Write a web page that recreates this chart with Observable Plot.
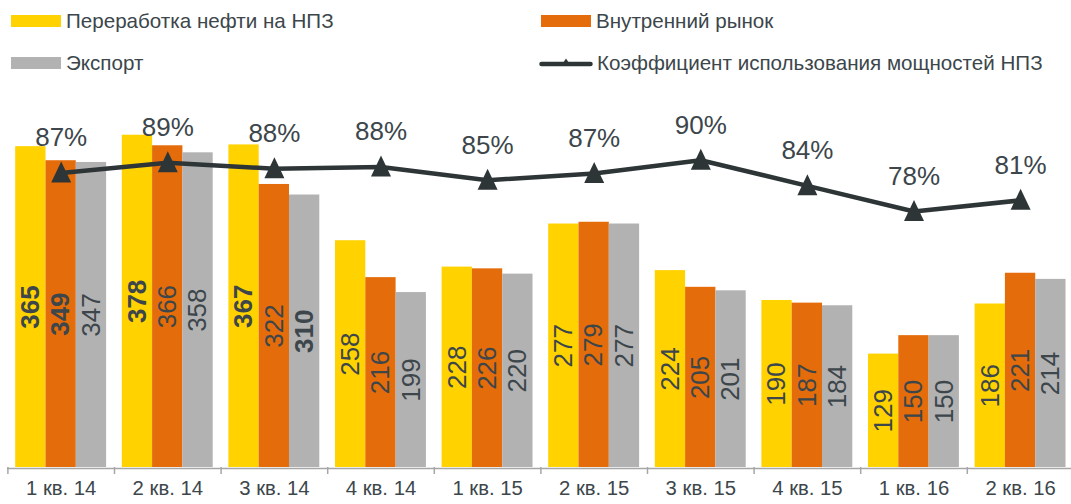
<!DOCTYPE html>
<html>
<head>
<meta charset="utf-8">
<script src="https://cdn.jsdelivr.net/npm/d3@7"></script>
<script src="https://cdn.jsdelivr.net/npm/@observablehq/plot@0.6"></script>
<style>
  body { margin: 0; background: #fff; font-family: Arial, "Liberation Sans", sans-serif; }
  #wrap { width: 1071px; height: 504px; position: relative; overflow: hidden; }
  #legend { position: relative; height: 90px; }
  .item { position: absolute; display: flex; align-items: center; height: 24px; font-size: 20.6px; color: #3C464B; white-space: nowrap; }
  .sw { width: 50px; height: 12px; margin-right: 5px; }
  #chart svg { display: block; }
</style>
</head>
<body>
<div id="wrap">
  <div id="legend"></div>
  <div id="chart"></div>
</div>
<script>
// ---- data ----
const quarters = ["1 кв. 14","2 кв. 14","3 кв. 14","4 кв. 14","1 кв. 15","2 кв. 15","3 кв. 15","4 кв. 15","1 кв. 16","2 кв. 16"];
const seriesNames = ["Переработка нефти на НПЗ", "Внутренний рынок", "Экспорт"];
const lineName = "Коэффициент использования мощностей НПЗ";
const refining = [365, 378, 367, 258, 228, 277, 224, 190, 129, 186];
const domestic = [349, 366, 322, 216, 226, 279, 205, 187, 150, 221];
const exportVals = [347, 358, 310, 199, 220, 277, 201, 184, 150, 214];
const utilization = [87.0, 89.4, 88.0, 88.4, 85.3, 86.9, 90.0, 84.0, 78.0, 80.6];

// ---- style ----
const colors = ["#FFD200", "#E46C0A", "#B2B2B2"];
const lineColor = "#2E3537";
const textColor = "#3C464B";
const boldLabels = new Set(["0|1 кв. 14", "1|1 кв. 14", "0|2 кв. 14", "0|3 кв. 14", "2|3 кв. 14"]);

// ---- legend ----
const legend = document.getElementById("legend");
const legendItems = [
  {name: seriesNames[0], color: colors[0], left: 11, top: 9},
  {name: seriesNames[1], color: colors[1], left: 541, top: 9},
  {name: seriesNames[2], color: colors[2], left: 11, top: 50.5},
  {name: lineName, line: true, left: 539, top: 50.5}
];
for (const it of legendItems) {
  const div = document.createElement("div");
  div.className = "item";
  div.style.left = it.left + "px";
  div.style.top = it.top + "px";
  if (it.line) {
    div.innerHTML = `<svg width="54" height="14" style="margin-right:4px"><line x1="2.5" y1="8" x2="51.5" y2="8" stroke="${lineColor}" stroke-width="4.5" stroke-linecap="round"/><path d="M22,10 L32,10 L27,2.5 Z" fill="${lineColor}"/></svg>`;
  } else {
    div.innerHTML = `<div class="sw" style="background:${it.color}"></div>`;
  }
  const span = document.createElement("span");
  span.textContent = it.name;
  div.appendChild(span);
  legend.appendChild(div);
}

// ---- chart ----
const W = 1071, H = 414, mb = 37;
const bandStart = 7.4, bandW = 106.6, pad = 7.8, barW = 30.3;
const pxPerUnit = 0.879;
const yMax = (H - mb) / pxPerUnit;
// secondary (percent) axis mapped into bar units
const pctToY = d3.scaleLinear().domain([18.04, 90]).range([0, 349.6]);

const series = [refining, domestic, exportVals];
const bars = [];
series.forEach((arr, s) => arr.forEach((v, i) => bars.push({q: quarters[i], s, v})));
const linePts = quarters.map((q, i) => ({q, p: utilization[i]}));

const triangle = {
  draw(ctx, size) {
    const r = Math.sqrt(size / Math.PI);
    const w = 2 * r, h = 2.1 * r, off = 1;
    ctx.moveTo(0, -h / 2 - off);
    ctx.lineTo(w / 2, h / 2 - off);
    ctx.lineTo(-w / 2, h / 2 - off);
    ctx.closePath();
  }
};

const marks = [];
for (let s = 0; s < 3; s++) {
  const left = pad + s * barW;
  const right = bandW - left - barW;
  const data = bars.filter(d => d.s === s);
  marks.push(Plot.barY(data, {x: "q", y: "v", fill: colors[s], insetLeft: left, insetRight: right}));
  const dx = left + barW / 2 - bandW / 2;
  const common = {x: "q", y: d => d.v / 2, text: d => String(d.v), rotate: -90, dx, fontSize: 26, fill: textColor};
  marks.push(Plot.text(data.filter(d => boldLabels.has(d.s + "|" + d.q)), {...common, fontWeight: "bold"}));
  marks.push(Plot.text(data.filter(d => !boldLabels.has(d.s + "|" + d.q)), {...common}));
}
marks.push(Plot.ruleY([0], {stroke: "#A6A6A6", strokeWidth: 1.5, dy: 1, insetLeft: 7}));
marks.push(Plot.ruleX(quarters, {x: d => d, dx: -bandW / 2, y1: 0, y2: -7 / pxPerUnit, stroke: "#A6A6A6", strokeWidth: 1.5}));
marks.push(Plot.text(quarters, {x: d => d, frameAnchor: "bottom", dy: 27, fontSize: 20.3, fill: textColor}));
marks.push(Plot.line(linePts, {x: "q", y: d => pctToY(d.p), stroke: lineColor, strokeWidth: 4.5}));
marks.push(Plot.dot(linePts, {x: "q", y: d => pctToY(d.p), symbol: triangle, r: 10, fill: lineColor, stroke: "none"}));
marks.push(Plot.text(linePts, {x: "q", y: d => pctToY(d.p), text: d => Math.round(d.p) + "%", dy: -35, fontSize: 26, fill: textColor}));

const chart = Plot.plot({
  width: W, height: H,
  marginTop: 0, marginBottom: mb, marginLeft: 0, marginRight: 0,
  style: {fontFamily: 'Arial, "Liberation Sans", sans-serif', background: "#fff", overflow: "visible"},
  x: {domain: quarters, range: [bandStart, bandStart + quarters.length * bandW], padding: 0, round: false, axis: null},
  y: {domain: [0, yMax], axis: null},
  marks
});
document.getElementById("chart").appendChild(chart);
</script>
</body>
</html>
